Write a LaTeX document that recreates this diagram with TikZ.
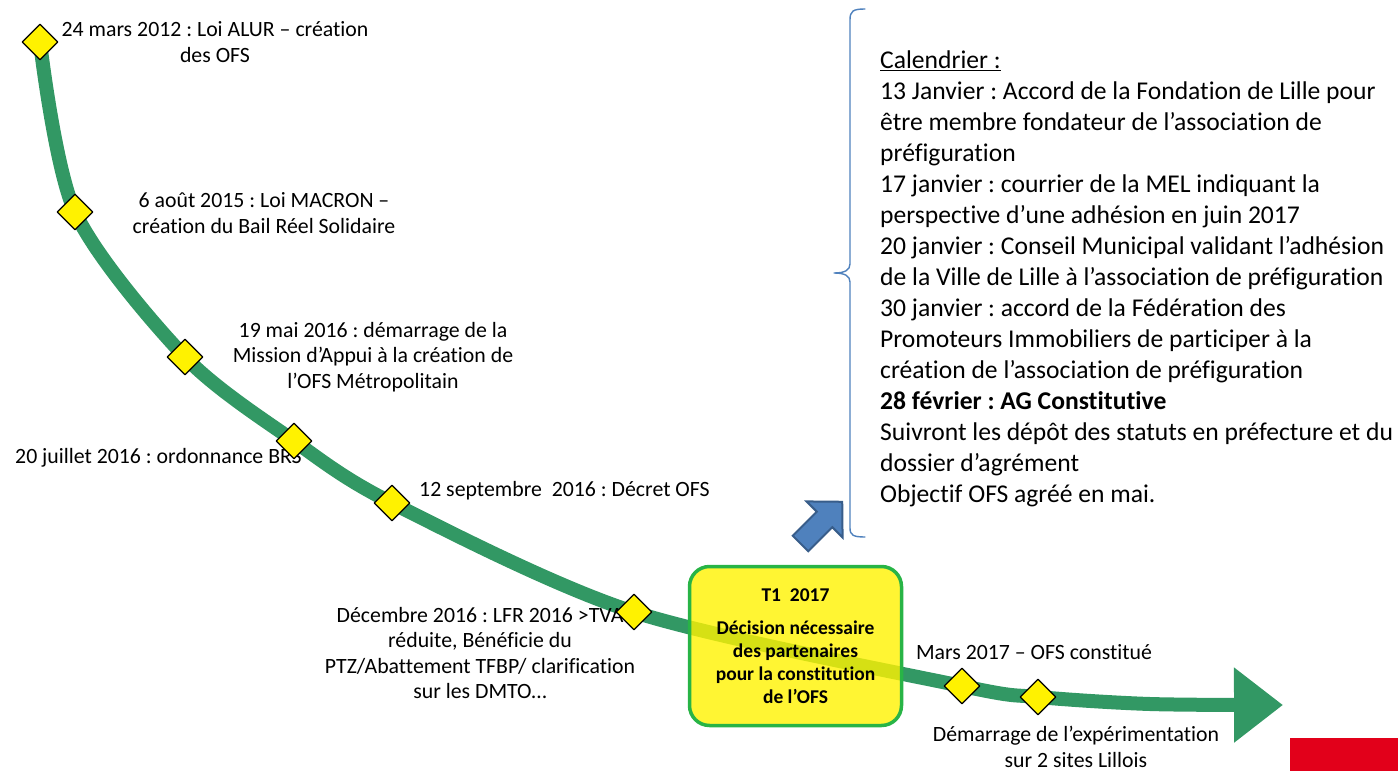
\documentclass[tikz,border=0pt]{standalone}
\usepackage{fontspec}
\setmainfont{Carlito}[Ligatures=NoCommon]
\usetikzlibrary{shapes.geometric,arrows.meta}
\definecolor{timegreen}{RGB}{50,152,100}
\definecolor{boxgreen}{RGB}{40,180,70}
\definecolor{arrowblue}{RGB}{79,129,189}
\definecolor{arrowedge}{RGB}{56,93,138}
\definecolor{logored}{RGB}{226,0,26}
\frenchspacing

\begin{document}
\begin{tikzpicture}[x=1pt,y=-1pt,line cap=round,line join=round,
    jalon/.style={diamond, draw=black, line width=1.3pt, fill=yellow, minimum width=36pt, minimum height=36pt, inner sep=0pt},
    evt/.style={align=center, inner sep=0pt, font=\fontsize{21.8}{25.5}\selectfont},
    etape/.style={draw=boxgreen, line width=3.5pt, fill=yellow, fill opacity=0.8, text opacity=1, rounded corners=20pt, minimum width=212pt, minimum height=159pt, align=center, font=\bfseries\fontsize{19.5}{23}\selectfont},
    cal/.style={align=left, inner sep=0pt, font=\fontsize{25.6}{31}\selectfont}]
                        \useasboundingbox (0,0) rectangle (1398,771);

                        % jalons sur la frise
                        \coordinate (d1) at (40,42);
                        \coordinate (d2) at (75,212);
                        \coordinate (d3) at (185,357);
                        \coordinate (d4) at (294,441);
                        \coordinate (d5) at (392,503);
                        \coordinate (d6) at (634,612);
                        \coordinate (d7) at (962,686);
                        \coordinate (d8) at (1038,697);
                        \coordinate (d9) at (1150,704);
                        \coordinate (fin) at (1283,705);

                        \draw [timegreen, line width=14pt, line cap=butt, -{Triangle[length=49pt,width=72pt]}] plot[smooth] coordinates {(d1) (d2) (d3) (d4) (d5) (d6) (d7) (d8) (d9) (fin)};

                        \node[etape] (t1) at (795.5,646) {T1\ \ 2017\\[10pt]Décision nécessaire\\des partenaires\\pour la constitution\\de l’OFS};

                        \node[evt] (e1) at (215,42) {24 mars 2012 : Loi ALUR – création\\des OFS};
                        \node[evt] (e2) at (264,213) {6 août 2015 : Loi MACRON –\\création du Bail Réel Solidaire};
                        \node[evt] (e3) at (373,357) {19 mai 2016 : démarrage de la\\Mission d’Appui à la création de\\l’OFS Métropolitain};
                        \node[evt, anchor=west] (e4) at (15,458) {20 juillet 2016 : ordonnance BRS};
                        \node[evt, anchor=west] (e5) at (419,491) {12 septembre\ \ 2016 : Décret OFS};
                        \node[evt] (e6) at (480,653) {Décembre 2016 : LFR 2016 >TVA\\réduite, Bénéficie du\\PTZ/Abattement TFBP/ clarification\\sur les DMTO…};
                        \node[evt] (e7) at (1034,652) {Mars 2017 – OFS constitué};
                        \node[evt] (e8) at (1076,747) {Démarrage de l’expérimentation\\sur 2 sites Lillois};

                        \foreach \i in {1,...,8}
                            \node[jalon] (j\i) at (d\i) {};

                        % fleche bleue vers le calendrier
                        \begin{scope}[shift={(800.5,543.5)}, rotate=45]
                            \draw [arrowedge, fill=arrowblue, line width=2pt, line cap=butt, line join=miter] (0,-11) -- (34,-11) -- (34,-25.5) -- (59,0) -- (34,25.5) -- (34,11) -- (0,11) -- cycle;
                        \end{scope}

                        % accolade
                        \draw [arrowblue, line width=1.4pt] (865,9) .. controls (853,9) and (850,11) .. (850,20) -- (850,264) .. controls (850,270) and (845,273) .. (834,273) .. controls (845,273) and (850,276) .. (850,282) -- (850,528) .. controls (850,535) and (853,537) .. (865,537);

                        \node[cal, anchor=west] (cal) at (880,279) {\underline{Calendrier :}\\13 Janvier : Accord de la Fondation de Lille pour\\être membre fondateur de l’association de\\préfiguration\\17 janvier : courrier de la MEL indiquant la\\perspective d’une adhésion en juin 2017\\20 janvier : Conseil Municipal validant l’adhésion\\de la Ville de Lille à l’association de préfiguration\\30 janvier : accord de la Fédération des\\Promoteurs Immobiliers de participer à la\\création de l’association de préfiguration\\\textbf{28 février : AG Constitutive}\\Suivront les dépôt des statuts en préfecture et du\\dossier d’agrément\\Objectif OFS agréé en mai.};

                        \fill [logored] (1290,738) rectangle (1398,771);
                    \end{tikzpicture}
\end{document}
